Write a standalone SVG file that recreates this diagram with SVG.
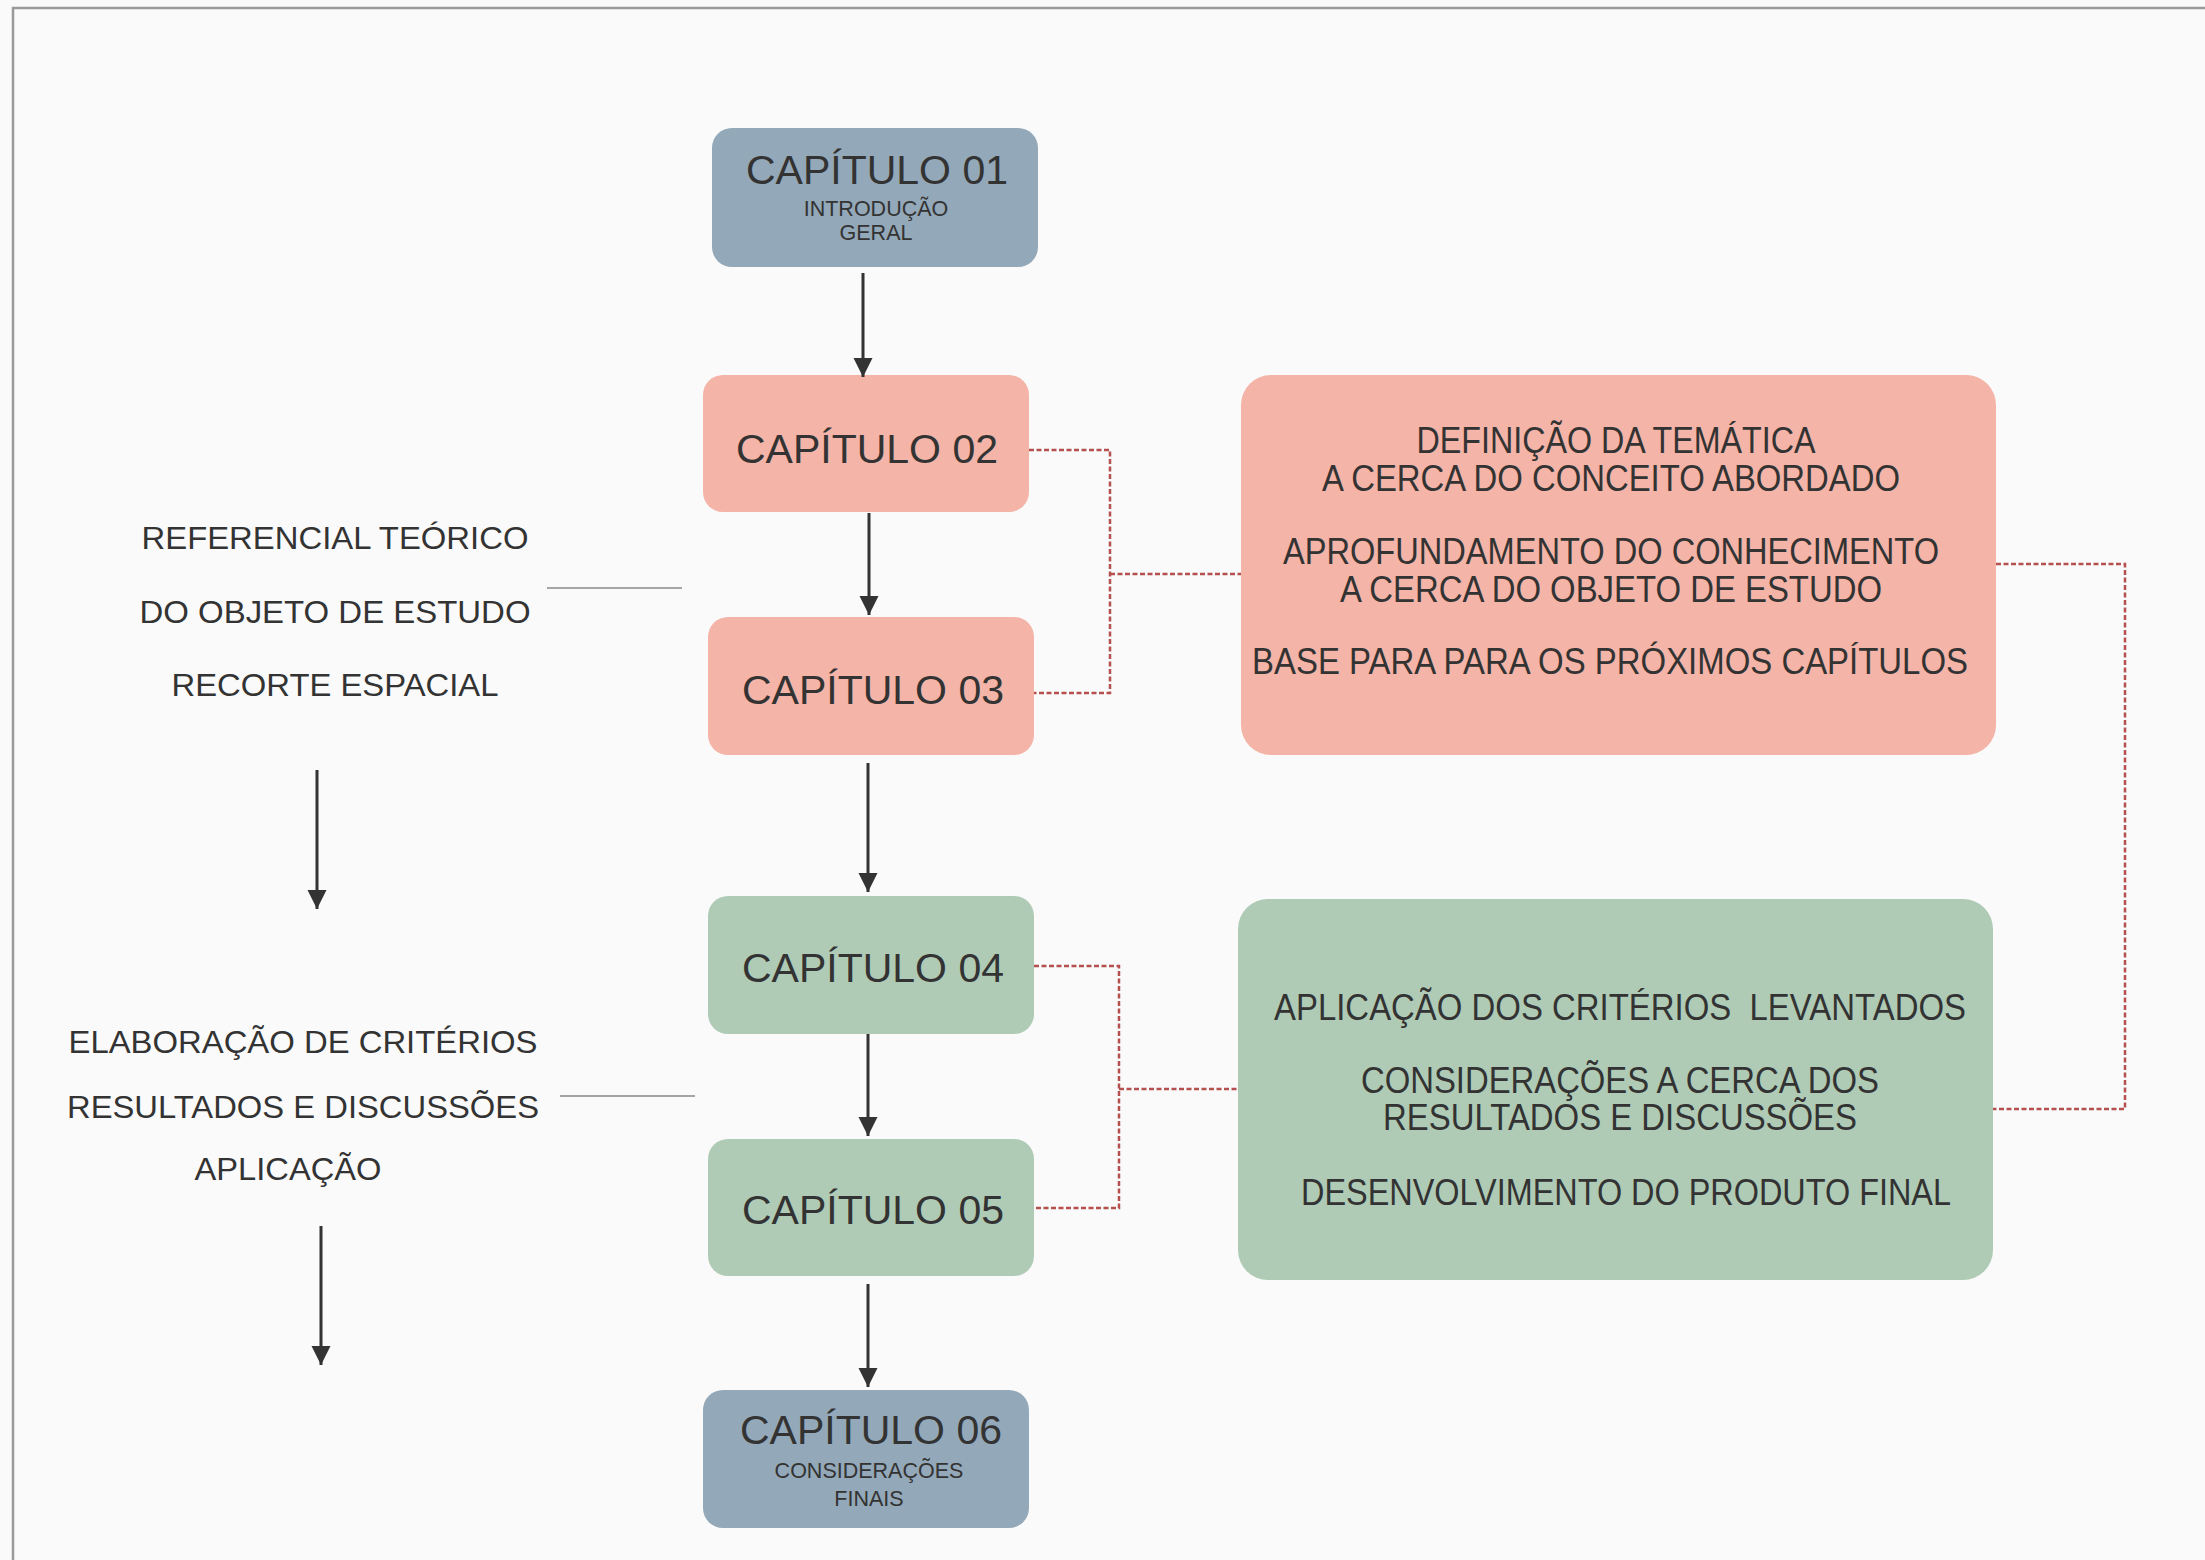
<svg xmlns="http://www.w3.org/2000/svg" width="2205" height="1560" viewBox="0 0 2205 1560">
<defs>
<style>
.t{font-family:"Liberation Sans",Arial,sans-serif;fill:#333333;text-anchor:middle}
.title{font-size:41px}
.sub{font-size:21.5px}
.big{font-size:36px}
.side{font-size:32px}
.blue{fill:#93a8b8}
.pink{fill:#f4b4a7}
.green{fill:#afcbb6}
.arrow{stroke:#333;stroke-width:3;fill:none;marker-end:url(#ah)}
.dot{stroke:#b5504f;stroke-width:2.5;stroke-dasharray:5 2.5;fill:none}
.gray{stroke:#888;stroke-width:1.5}
</style>
<marker id="ah" viewBox="0 0 10 10" refX="10" refY="5" markerWidth="6.5" markerHeight="6.5" markerUnits="strokeWidth" orient="auto">
<path d="M0,0 L10,5 L0,10 z" fill="#333"/>
</marker>
</defs>
<rect width="2205" height="1560" fill="#fafafa"/>
<path d="M13,1560 V8 H2205" stroke="#9a9a9a" stroke-width="2.5" fill="none"/>

<g id="ch01"><rect class="blue" x="712" y="128" width="326" height="139" rx="20"/>
<text class="t title" x="877" y="184">CAPÍTULO 01</text>
<text class="t sub" x="876" y="216">INTRODUÇÃO</text>
<text class="t sub" x="876" y="240">GERAL</text></g>

<g id="ch02"><rect class="pink" x="703" y="375" width="326" height="137" rx="20"/>
<text class="t title" x="867" y="463">CAPÍTULO 02</text></g>

<g id="ch03"><rect class="pink" x="708" y="617" width="326" height="138" rx="20"/>
<text class="t title" x="873" y="704">CAPÍTULO 03</text></g>

<g id="ch04"><rect class="green" x="708" y="896" width="326" height="138" rx="20"/>
<text class="t title" x="873" y="982">CAPÍTULO 04</text></g>

<g id="ch05"><rect class="green" x="708" y="1139" width="326" height="137" rx="20"/>
<text class="t title" x="873" y="1224">CAPÍTULO 05</text></g>

<g id="ch06"><rect class="blue" x="703" y="1390" width="326" height="138" rx="20"/>
<text class="t title" x="871" y="1444">CAPÍTULO 06</text>
<text class="t sub" x="869" y="1478">CONSIDERAÇÕES</text>
<text class="t sub" x="869" y="1506">FINAIS</text></g>

<g id="box-pink"><rect class="pink" x="1241" y="375" width="755" height="380" rx="30"/>
<text class="t big" x="1616" y="453" textLength="399" lengthAdjust="spacingAndGlyphs">DEFINIÇÃO DA TEMÁTICA</text>
<text class="t big" x="1611" y="491" textLength="578" lengthAdjust="spacingAndGlyphs">A CERCA DO CONCEITO ABORDADO</text>
<text class="t big" x="1611" y="564" textLength="656" lengthAdjust="spacingAndGlyphs">APROFUNDAMENTO DO CONHECIMENTO</text>
<text class="t big" x="1611" y="602" textLength="542" lengthAdjust="spacingAndGlyphs">A CERCA DO OBJETO DE ESTUDO</text>
<text class="t big" x="1610" y="674" textLength="716" lengthAdjust="spacingAndGlyphs">BASE PARA PARA OS PRÓXIMOS CAPÍTULOS</text></g>

<g id="box-green"><rect class="green" x="1238" y="899" width="755" height="381" rx="30"/>
<text class="t big" x="1620" y="1020" textLength="692" lengthAdjust="spacingAndGlyphs">APLICAÇÃO DOS CRITÉRIOS&#160; LEVANTADOS</text>
<text class="t big" x="1620" y="1093" textLength="518" lengthAdjust="spacingAndGlyphs">CONSIDERAÇÕES A CERCA DOS</text>
<text class="t big" x="1620" y="1130" textLength="474" lengthAdjust="spacingAndGlyphs">RESULTADOS E DISCUSSÕES</text>
<text class="t big" x="1626" y="1205" textLength="650" lengthAdjust="spacingAndGlyphs">DESENVOLVIMENTO DO PRODUTO FINAL</text></g>

<g id="side-top">
<text class="t side" x="335" y="549" textLength="387" lengthAdjust="spacingAndGlyphs">REFERENCIAL TEÓRICO</text>
<text class="t side" x="335" y="623" textLength="391" lengthAdjust="spacingAndGlyphs">DO OBJETO DE ESTUDO</text>
<text class="t side" x="335" y="696" textLength="327" lengthAdjust="spacingAndGlyphs">RECORTE ESPACIAL</text></g>

<g id="side-bottom">
<text class="t side" x="303" y="1053" textLength="469" lengthAdjust="spacingAndGlyphs">ELABORAÇÃO DE CRITÉRIOS</text>
<text class="t side" x="303" y="1118" textLength="472" lengthAdjust="spacingAndGlyphs">RESULTADOS E DISCUSSÕES</text>
<text class="t side" x="288" y="1180" textLength="187" lengthAdjust="spacingAndGlyphs">APLICAÇÃO</text></g>

<g id="connectors">
<line class="arrow" x1="863" y1="273" x2="863" y2="377"/>
<line class="arrow" x1="869" y1="513" x2="869" y2="615"/>
<line class="arrow" x1="868" y1="763" x2="868" y2="892"/>
<line class="arrow" x1="868" y1="1034" x2="868" y2="1136"/>
<line class="arrow" x1="868" y1="1284" x2="868" y2="1387"/>
<line class="arrow" x1="317" y1="770" x2="317" y2="909"/>
<line class="arrow" x1="321" y1="1226" x2="321" y2="1365"/>
<line class="gray" x1="547" y1="588" x2="682" y2="588"/>
<line class="gray" x1="560" y1="1096" x2="695" y2="1096"/>
<path class="dot" d="M1029,450 H1110 V693 H1034 M1110,574 H1241"/>
<path class="dot" d="M1034,966 H1119 V1208 H1034 M1119,1089 H1238"/>
<path class="dot" d="M1996,564 H2125 V1109 H1993"/>
</g>
</svg>
